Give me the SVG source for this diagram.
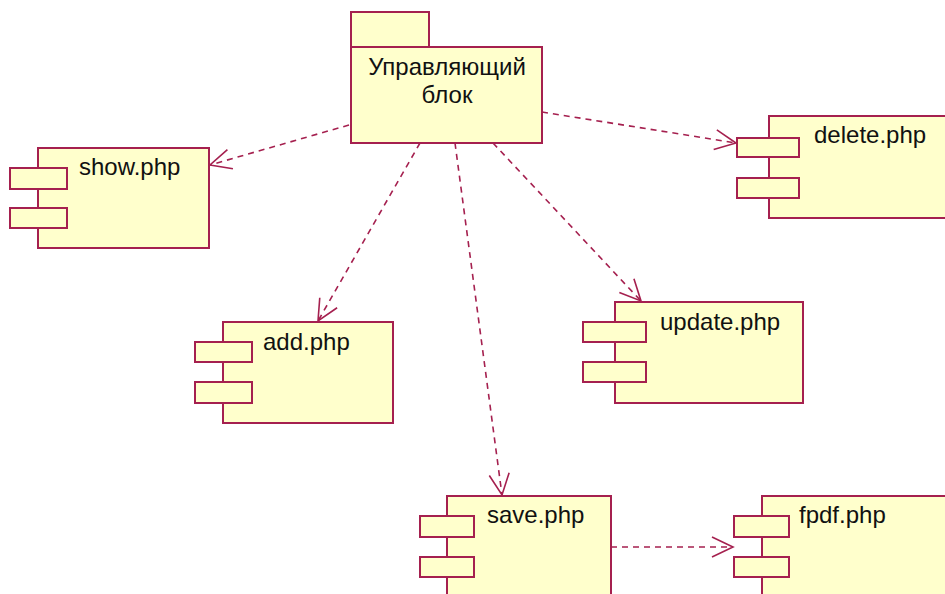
<svg xmlns="http://www.w3.org/2000/svg" width="945" height="594" viewBox="0 0 945 594">
  <style>
    .shape { fill: #ffffcc; stroke: #a5204f; stroke-width: 2; }
    .label { font-family: "Liberation Sans", Arial, sans-serif; font-size: 24px; fill: #111111; }
    .dep { fill: none; stroke: #a5204f; stroke-width: 1.6; stroke-dasharray: 6 5; marker-end: url(#open-arrow); }
  </style>
  <defs>
    <marker id="open-arrow" markerUnits="userSpaceOnUse" viewBox="-23 -12 25 24" markerWidth="25" markerHeight="24" refX="0" refY="0" orient="auto">
      <path d="M -21 -10 L 0 0 L -21 10" fill="none" stroke="#a5204f" stroke-width="1.6"/>
    </marker>
  </defs>
  <rect width="945" height="594" fill="#ffffff"/>

  <!-- dependency connectors -->
  <g id="connectors">
    <line class="dep" x1="349" y1="125" x2="210" y2="165"/>
    <line class="dep" x1="542" y1="112" x2="736" y2="143"/>
    <line class="dep" x1="420" y1="143" x2="318" y2="321"/>
    <line class="dep" x1="455" y1="143" x2="502" y2="495"/>
    <line class="dep" x1="493" y1="143" x2="641" y2="301"/>
    <line class="dep" x1="611" y1="547" x2="733" y2="547"/>
  </g>

  <!-- package -->
  <g id="control-block">
    <rect class="shape" x="351" y="12" width="78" height="35"/>
    <rect class="shape" x="351" y="47" width="191" height="96"/>
    <text class="label" x="447" y="75" text-anchor="middle">Управляющий</text>
    <text class="label" x="447" y="103" text-anchor="middle">блок</text>
  </g>

  <!-- components -->
  <g id="show-php">
    <rect class="shape" x="38" y="148" width="171" height="100"/>
    <rect class="shape" x="10" y="168" width="57" height="21"/>
    <rect class="shape" x="10" y="208" width="57" height="20"/>
    <text class="label" x="79" y="175">show.php</text>
  </g>

  <g id="delete-php">
    <rect class="shape" x="769" y="116" width="200" height="102"/>
    <rect class="shape" x="737" y="138" width="62" height="19"/>
    <rect class="shape" x="737" y="178" width="62" height="20"/>
    <text class="label" x="814" y="143">delete.php</text>
  </g>

  <g id="add-php">
    <rect class="shape" x="223" y="322" width="170" height="101"/>
    <rect class="shape" x="195" y="342" width="57" height="20"/>
    <rect class="shape" x="195" y="382" width="57" height="21"/>
    <text class="label" x="263" y="350">add.php</text>
  </g>

  <g id="update-php">
    <rect class="shape" x="615" y="302" width="188" height="101"/>
    <rect class="shape" x="583" y="322" width="63" height="20"/>
    <rect class="shape" x="583" y="362" width="63" height="20"/>
    <text class="label" x="660" y="330">update.php</text>
  </g>

  <g id="save-php">
    <rect class="shape" x="447" y="496" width="164" height="120"/>
    <rect class="shape" x="420" y="516" width="54" height="21"/>
    <rect class="shape" x="420" y="557" width="54" height="20"/>
    <text class="label" x="487" y="523">save.php</text>
  </g>

  <g id="fpdf-php">
    <rect class="shape" x="762" y="496" width="200" height="120"/>
    <rect class="shape" x="734" y="516" width="55" height="21"/>
    <rect class="shape" x="734" y="557" width="55" height="20"/>
    <text class="label" x="799" y="523">fpdf.php</text>
  </g>
</svg>
